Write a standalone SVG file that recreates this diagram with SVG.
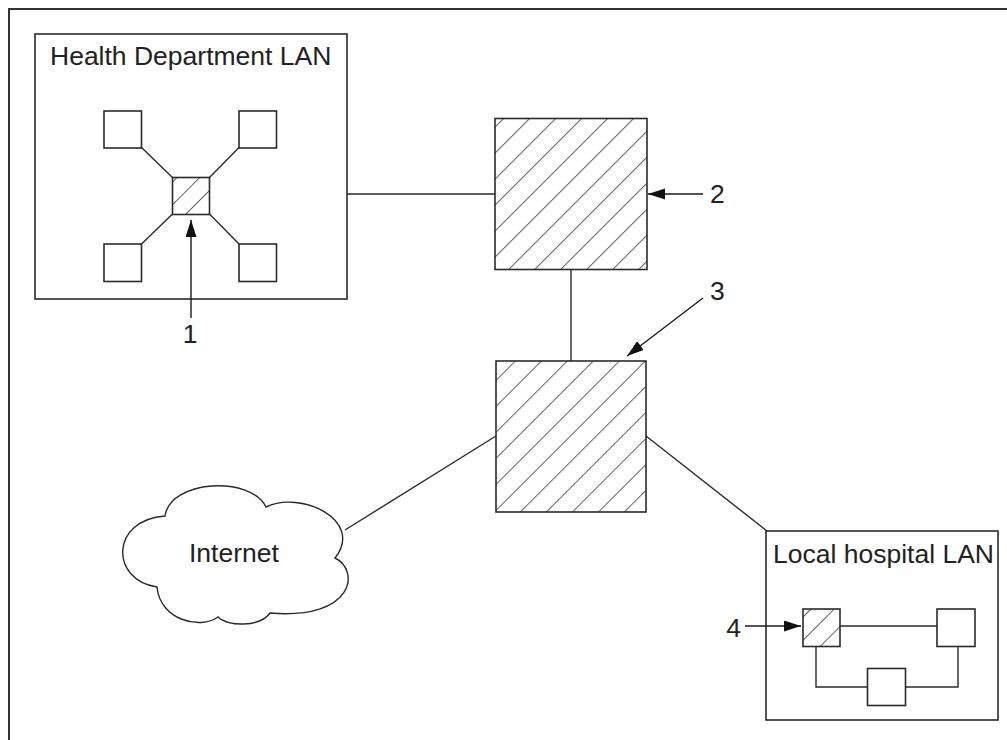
<svg xmlns="http://www.w3.org/2000/svg" width="1007" height="740" viewBox="0 0 1007 740">
<style>
.box{fill:#fff;stroke:#2a2a2a;stroke-width:1.6}
.sq{fill:#fff;stroke:#2a2a2a;stroke-width:1.6}
.ln{fill:none;stroke:#2a2a2a;stroke-width:1.4}
.arr{fill:none;stroke:#1a1a1a;stroke-width:1.4;marker-end:url(#ah)}
.t{font-family:"Liberation Sans",Arial,sans-serif;font-size:26.5px;fill:#222}
</style>
<defs>
<marker id="ah" markerUnits="userSpaceOnUse" markerWidth="18" markerHeight="12" refX="17" refY="5.5" orient="auto">
<path d="M0,0 L17,5.5 L0,11 Z" fill="#111"/>
</marker>
<pattern id="h2" patternUnits="userSpaceOnUse" width="18.385" height="10" x="16.6" patternTransform="rotate(45)">
<line x1="0" y1="-1" x2="0" y2="11" stroke="#222" stroke-width="1.4"/>
</pattern>
<pattern id="h3" patternUnits="userSpaceOnUse" width="18.385" height="10" x="12.5" patternTransform="rotate(45)">
<line x1="0" y1="-1" x2="0" y2="11" stroke="#222" stroke-width="1.4"/>
</pattern>
<pattern id="h1" patternUnits="userSpaceOnUse" width="16.05" height="10" x="9.5" patternTransform="rotate(45)">
<line x1="0" y1="-1" x2="0" y2="11" stroke="#222" stroke-width="1.4"/>
</pattern>
<pattern id="h4" patternUnits="userSpaceOnUse" width="16.5" height="10" x="13.6" patternTransform="rotate(45)">
<line x1="0" y1="-1" x2="0" y2="11" stroke="#222" stroke-width="1.4"/>
</pattern>
</defs>
<rect width="1007" height="740" fill="#fff"/>
<g id="frame"><rect x="9" y="9" width="1100" height="800" fill="none" stroke="#333" stroke-width="2"/></g>

<g id="health-lan">
<rect class="box" x="35" y="34" width="312" height="265"/>
<text class="t" x="50" y="65">Health Department LAN</text>
<g class="ln">
<line x1="141.5" y1="147.5" x2="172.5" y2="177.5"/>
<line x1="239" y1="147.5" x2="209.5" y2="177.5"/>
<line x1="141.5" y1="244" x2="172.5" y2="214"/>
<line x1="239" y1="244" x2="209.5" y2="214"/>
</g>
<rect class="sq" x="104" y="111" width="37.5" height="37"/>
<rect class="sq" x="239" y="111" width="37.5" height="37"/>
<rect class="sq" x="104" y="244" width="37.5" height="37.5"/>
<rect class="sq" x="239" y="244" width="37.5" height="37.5"/>
<g id="node-1"><rect class="sq" x="172.5" y="177.5" width="37" height="37" style="fill:url(#h1)"/></g>
</g>

<g id="node-2"><rect class="sq" x="495" y="118.5" width="152" height="151" style="fill:url(#h2)"/></g>
<g id="node-3"><rect class="sq" x="496" y="361" width="150" height="151" style="fill:url(#h3)"/></g>

<g id="internet">
<path class="ln" style="fill:#fff" d="M165,516 C170,480 250,475 266,507 C300,490 365,520 335,558 C360,570 355,620 270,613 C260,627 228,627 218,617 C200,630 160,620 157,587 C110,580 110,520 165,516 Z"/>
<text class="t" x="189" y="562">Internet</text>
</g>

<g id="hospital-lan">
<rect class="box" x="766" y="531" width="232" height="189"/>
<text class="t" x="773" y="563">Local hospital LAN</text>
<g class="ln">
<line x1="840" y1="626" x2="937" y2="626"/>
<polyline points="816,647 816,687 867,687"/>
<polyline points="906,687 958,687 958,647"/>
</g>
<g id="node-4"><rect class="sq" x="803" y="609" width="37" height="37.5" style="fill:url(#h4)"/></g>
<rect class="sq" x="937" y="609" width="38" height="37.5"/>
<rect class="sq" x="867.5" y="668.5" width="38" height="37"/>
</g>

<g id="connectors">
<line class="ln" x1="347" y1="194" x2="495" y2="194"/>
<line class="ln" x1="571" y1="269.5" x2="571" y2="361"/>
<line class="ln" x1="496" y1="436" x2="345" y2="530"/>
<line class="ln" x1="646" y1="436" x2="767" y2="531"/>
<line class="arr" x1="191" y1="318" x2="191" y2="220"/>
<line class="arr" x1="703" y1="194" x2="648" y2="194"/>
<line class="arr" x1="703" y1="298" x2="627" y2="356"/>
<line class="arr" x1="745" y1="626" x2="801" y2="626"/>
</g>

<g id="labels">
<text class="t" x="190" y="343" text-anchor="middle">1</text>
<text class="t" x="710" y="203">2</text>
<text class="t" x="710" y="300">3</text>
<text class="t" x="741" y="637" text-anchor="end">4</text>
</g>
</svg>
